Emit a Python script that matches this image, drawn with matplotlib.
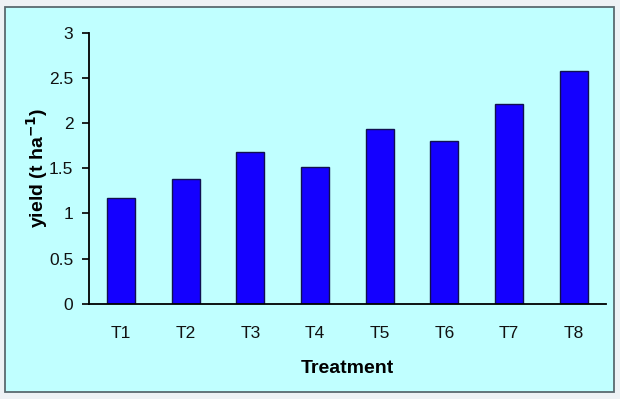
import matplotlib.pyplot as plt
from matplotlib.patches import FancyBboxPatch

# data
treatments = ['T1', 'T2', 'T3', 'T4', 'T5', 'T6', 'T7', 'T8']
yield_t_ha = [1.17, 1.385, 1.68, 1.51, 1.94, 1.80, 2.215, 2.575]
y_ticks = [0, 0.5, 1, 1.5, 2, 2.5, 3]

plt.rcParams['font.family'] = ['Liberation Sans', 'DejaVu Sans']

fig = plt.figure(figsize=(6.2, 3.99), dpi=100)
fig.patch.set_facecolor('#eef2f5')

# cyan chart area with gray border, behind the axes
frame = FancyBboxPatch((5 / 620, 7 / 399), 609 / 620, 385 / 399,
                       boxstyle='square,pad=0', transform=fig.transFigure,
                       facecolor='#c0ffff', edgecolor='#5a6a70', linewidth=1.3,
                       zorder=-5)
fig.patches.append(frame)

ax = fig.add_axes([88.6 / 620, 1 - 303.7 / 399, (606 - 88.6) / 620, (303.7 - 33) / 399])
ax.set_facecolor('none')
ax.set_zorder(2)

x = range(len(treatments))
ax.bar(x, yield_t_ha, width=0.43, color='#1400ff', edgecolor='#101050', linewidth=1.0)

ax.set_xlim(-0.5, len(treatments) - 0.5)
ax.set_ylim(0, 3)
ax.set_yticks(y_ticks)
ax.set_yticklabels(['0', '0.5', '1', '1.5', '2', '2.5', '3'])
ax.set_xticks(list(x))
ax.set_xticklabels(treatments)

for s in ['top', 'right']:
    ax.spines[s].set_visible(False)
ax.spines['left'].set_linewidth(1.3)
ax.spines['bottom'].set_linewidth(1.3)
ax.tick_params(axis='y', length=5, width=1.3, labelsize=12.5, pad=6, colors='#111111')
ax.tick_params(axis='x', length=0, labelsize=12.5, pad=16, colors='#111111')

ax.set_xlabel('Treatment', fontsize=14, fontweight='bold', labelpad=14)
ax.set_ylabel('yield (t ha$^{\\mathbf{-1}}$)', fontsize=14, fontweight='bold', labelpad=-1)

fig.savefig('out.png', dpi=100, facecolor=fig.get_facecolor())
